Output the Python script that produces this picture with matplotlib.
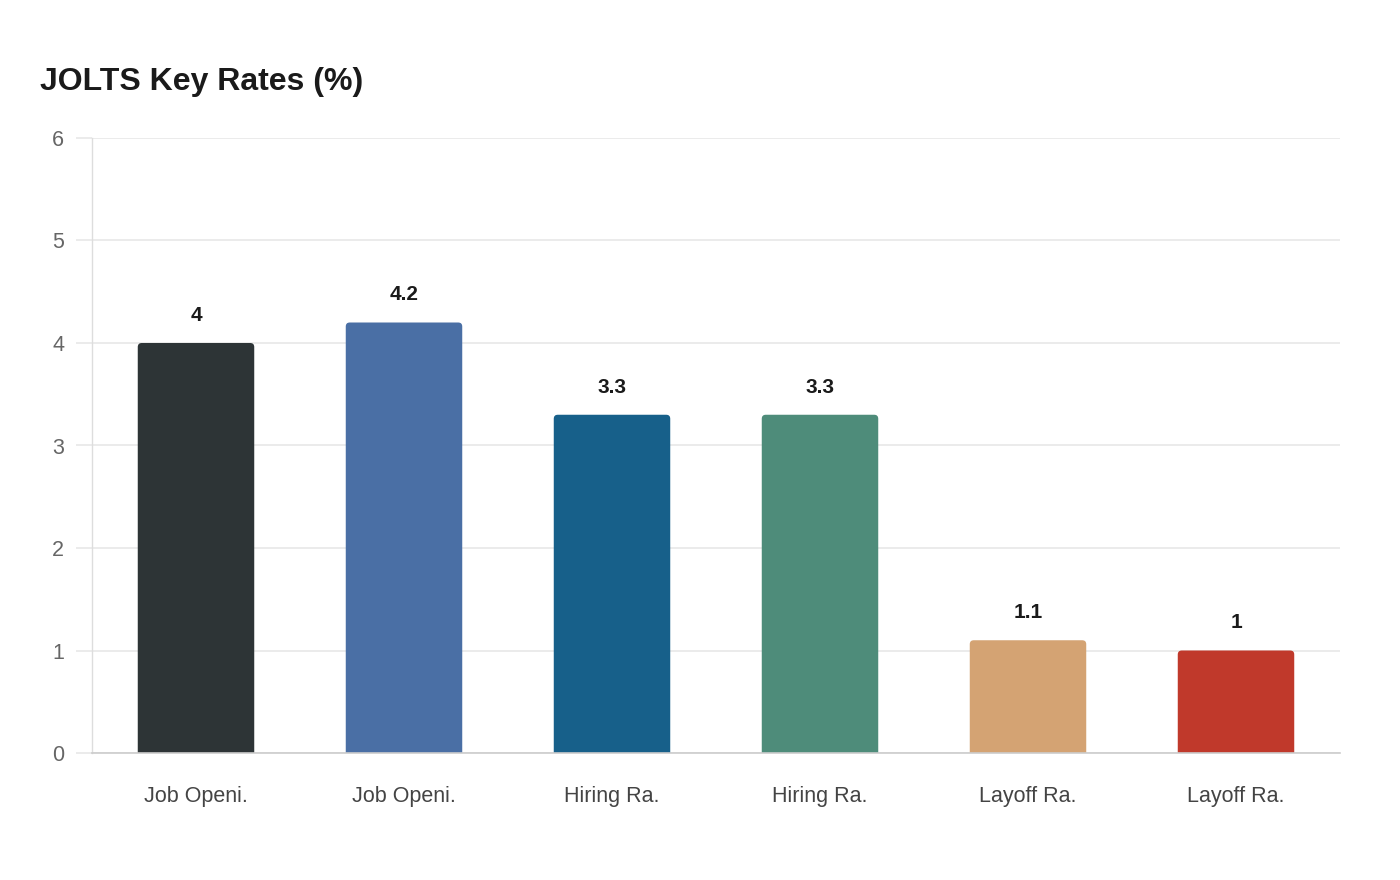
import matplotlib
matplotlib.use("Agg")
import matplotlib.pyplot as plt
from matplotlib.patches import FancyBboxPatch

categories = ["Job Openi.", "Job Openi.", "Hiring Ra.", "Hiring Ra.", "Layoff Ra.", "Layoff Ra."]
values = [4.0, 4.2, 3.3, 3.3, 1.1, 1.0]
value_labels = ["4", "4.2", "3.3", "3.3", "1.1", "1"]
colors = ["#2d3436", "#4a6fa5", "#17608a", "#4e8c7a", "#d4a373", "#c0392b"]
y_ticks = [0, 1, 2, 3, 4, 5, 6]

plt.rcParams["font.family"] = ["Liberation Sans", "DejaVu Sans"]

fig = plt.figure(figsize=(14, 8.8), dpi=100)
ax = fig.add_axes([92 / 1400, 1 - 753 / 880, 1248 / 1400, 615 / 880])

x = list(range(len(categories)))
bar_w = 0.56
bars = ax.bar(x, values, width=bar_w, color="none")

# rounded tops: draw patches slightly below zero so the bottom is clipped square
px_x = 1248 / len(categories)
px_y = 615 / 6
r = 4 / px_x
for b, c in zip(bars, colors):
    x0 = b.get_x()
    h = b.get_height()
    p = FancyBboxPatch((x0 + r, -0.1 + r * px_x / px_y), bar_w - 2 * r,
                       h + 0.1 - 2 * r * px_x / px_y,
                       boxstyle=f"round,pad={r}",
                       mutation_aspect=px_x / px_y,
                       facecolor=c, edgecolor="none", zorder=3)
    ax.add_patch(p)

for xi, v, lab in zip(x, values, value_labels):
    ax.annotate(lab, (xi, v), xytext=(0, 16), textcoords="offset points",
                ha="center", va="baseline", fontsize=15, fontweight="bold",
                color="#1a1a1a", zorder=4)

ax.set_xlim(-0.5, len(categories) - 0.5)
ax.set_ylim(0, 6)
ax.set_yticks(y_ticks)
ax.set_yticklabels([str(t) for t in y_ticks])
ax.set_xticks(x)
ax.set_xticklabels(categories)

ax.grid(axis="y", color="#e8e8e8", linewidth=1.2, zorder=0)
ax.set_axisbelow(True)
ax.tick_params(axis="y", length=11.5, width=1.2, color="#e8e8e8", pad=8.5,
               labelsize=15.5, labelcolor="#666666")
ax.tick_params(axis="x", length=0, pad=23.5, labelsize=15.5, labelcolor="#444444")

for s in ["top", "right"]:
    ax.spines[s].set_visible(False)
ax.spines["left"].set_color("#dddddd")
ax.spines["left"].set_linewidth(1)
ax.spines["bottom"].set_color("#cccccc")
ax.spines["bottom"].set_linewidth(1.2)
ax.spines["bottom"].set_zorder(5)

fig.text(40 / 1400, 1 - 90 / 880, "JOLTS Key Rates (%)", fontsize=23,
         fontweight="bold", color="#1a1a1a", ha="left", va="baseline")

fig.savefig("out.png", dpi=100, facecolor="white")
